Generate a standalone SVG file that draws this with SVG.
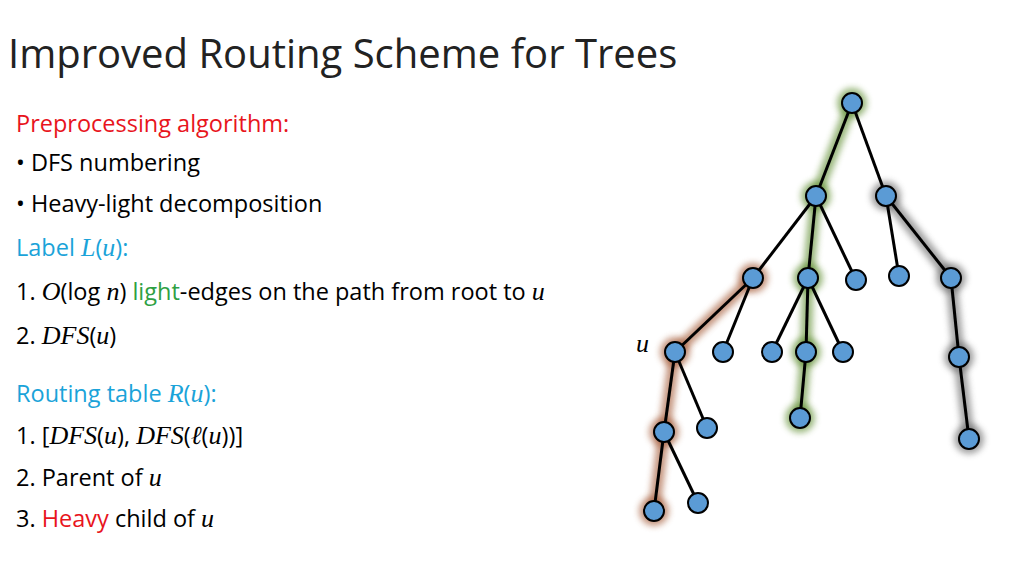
<svg xmlns="http://www.w3.org/2000/svg" width="1024" height="576" viewBox="0 0 1024 576">
<style>
.t{font-family:"Open Sans","Liberation Sans",Arial,sans-serif;font-size:23.5px;fill:#000}
.m{font-family:"Liberation Serif","Times New Roman",serif;font-style:italic;font-size:26px}
.e line{stroke:#000;stroke-width:3}
.n circle{fill:#5b9bd5;stroke:#000;stroke-width:2}
.g{fill:none;stroke-width:12;stroke-linecap:round;stroke-linejoin:round;filter:url(#b);opacity:.6}
.h{filter:url(#b);opacity:.6}
</style>
<defs><filter id="b" x="-30%" y="-30%" width="160%" height="160%"><feGaussianBlur stdDeviation="3"/></filter></defs>
<rect width="1024" height="576" fill="#fff"/>
<text x="8" y="68" style="font-family:'Open Sans','Liberation Sans',Arial,sans-serif;font-size:40px;fill:#222">Improved Routing Scheme for Trees</text>
<text class="t" x="16" y="132" style="fill:#e8141c">Preprocessing algorithm:</text>
<text class="t" x="16" y="171">• DFS numbering</text>
<text class="t" x="16" y="212">• Heavy-light decomposition</text>
<text class="t" x="16" y="256" style="fill:#1aa3d9">Label <tspan class="m">L</tspan>(<tspan class="m">u</tspan>):</text>
<text class="t" x="16" y="300">1. <tspan class="m">O</tspan>(log <tspan class="m">n</tspan>) <tspan style="fill:#2ea043">light</tspan>-edges on the path from root to <tspan class="m">u</tspan></text>
<text class="t" x="16" y="344">2. <tspan class="m">DFS</tspan>(<tspan class="m">u</tspan>)</text>
<text class="t" x="16" y="402" style="fill:#1aa3d9">Routing table <tspan class="m">R</tspan>(<tspan class="m">u</tspan>):</text>
<text class="t" x="16" y="444">1. [<tspan class="m">DFS</tspan>(<tspan class="m">u</tspan>), <tspan class="m">DFS</tspan>(<tspan class="m">ℓ</tspan>(<tspan class="m">u</tspan>))]</text>
<text class="t" x="16" y="486">2. Parent of <tspan class="m">u</tspan></text>
<text class="t" x="16" y="527">3. <tspan style="fill:#e8141c">Heavy</tspan> child of <tspan class="m">u</tspan></text>
<text x="636" y="352" style="font-family:'Liberation Serif',serif;font-style:italic;font-size:26px">u</text>
<g id="glow">
<polyline class="g" stroke="#5a8a2a" points="852,103 816,196 808,278 806,352 800,418"/>
<polyline class="g" stroke="#666" points="886,196 951,278 959,357 969,439"/>
<polyline class="g" stroke="#a0522d" points="753,278 675,352 664,432 654,511"/>
<g class="h" fill="#5a8a2a"><circle cx="852" cy="103" r="15"/><circle cx="816" cy="196" r="15"/><circle cx="808" cy="278" r="15"/><circle cx="806" cy="352" r="15"/><circle cx="800" cy="418" r="15"/></g>
<g class="h" fill="#666"><circle cx="886" cy="196" r="15"/><circle cx="951" cy="278" r="15"/><circle cx="959" cy="357" r="15"/><circle cx="969" cy="439" r="15"/></g>
<g class="h" fill="#a0522d"><circle cx="753" cy="278" r="15"/><circle cx="675" cy="352" r="15"/><circle cx="664" cy="432" r="15"/><circle cx="654" cy="511" r="15"/></g>
</g>
<g id="connectors" class="e">
<line x1="852" y1="103" x2="816" y2="196"/><line x1="852" y1="103" x2="886" y2="196"/>
<line x1="816" y1="196" x2="753" y2="278"/><line x1="816" y1="196" x2="808" y2="278"/><line x1="816" y1="196" x2="856" y2="280"/>
<line x1="886" y1="196" x2="899" y2="276"/><line x1="886" y1="196" x2="951" y2="278"/>
<line x1="753" y1="278" x2="675" y2="352"/><line x1="753" y1="278" x2="723" y2="352"/>
<line x1="808" y1="278" x2="772" y2="352"/><line x1="808" y1="278" x2="806" y2="352"/><line x1="808" y1="278" x2="843" y2="352"/>
<line x1="951" y1="278" x2="959" y2="357"/><line x1="959" y1="357" x2="969" y2="439"/>
<line x1="806" y1="352" x2="800" y2="418"/>
<line x1="675" y1="352" x2="664" y2="432"/><line x1="675" y1="352" x2="707" y2="428"/>
<line x1="664" y1="432" x2="654" y2="511"/><line x1="664" y1="432" x2="698" y2="503"/>
</g>
<g class="n">
<g id="root"><circle cx="852" cy="103" r="10"/></g>
<g id="a"><circle cx="816" cy="196" r="10"/></g>
<g id="b1"><circle cx="886" cy="196" r="10"/></g>
<g id="c"><circle cx="753" cy="278" r="10"/></g>
<g id="d"><circle cx="808" cy="278" r="10"/></g>
<g id="e1"><circle cx="856" cy="280" r="10"/></g>
<g id="f"><circle cx="899" cy="276" r="10"/></g>
<g id="g1"><circle cx="951" cy="278" r="10"/></g>
<g id="u"><circle cx="675" cy="352" r="10"/></g>
<g id="h"><circle cx="723" cy="352" r="10"/></g>
<g id="i"><circle cx="772" cy="352" r="10"/></g>
<g id="j"><circle cx="806" cy="352" r="10"/></g>
<g id="k"><circle cx="843" cy="352" r="10"/></g>
<g id="l"><circle cx="959" cy="357" r="10"/></g>
<g id="m"><circle cx="969" cy="439" r="10"/></g>
<g id="nn"><circle cx="800" cy="418" r="10"/></g>
<g id="o"><circle cx="664" cy="432" r="10"/></g>
<g id="p"><circle cx="707" cy="428" r="10"/></g>
<g id="q"><circle cx="654" cy="511" r="10"/></g>
<g id="r"><circle cx="698" cy="503" r="10"/></g>
</g>
</svg>
